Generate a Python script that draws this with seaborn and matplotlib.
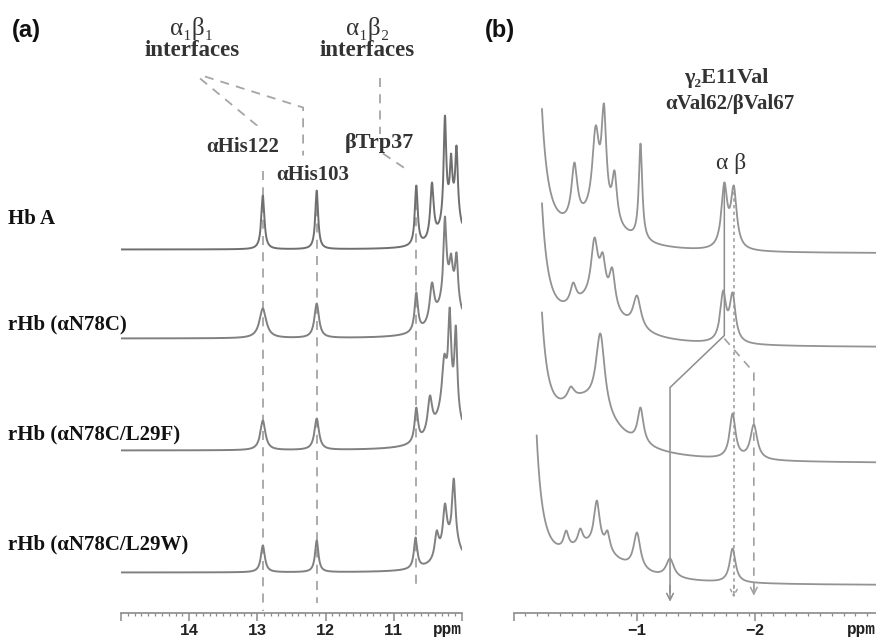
import numpy as np
import pandas as pd
import matplotlib.pyplot as plt
import seaborn as sns
from matplotlib.ticker import FixedLocator, MultipleLocator

sns.set_theme(style='white')
SERIF = ['Liberation Serif', 'DejaVu Serif']
MONO = ['Liberation Mono', 'DejaVu Sans Mono']
plt.rcParams['font.family'] = SERIF

samples = ['Hb A', 'rHb (αN78C)', 'rHb (αN78C/L29F)', 'rHb (αN78C/L29W)']

# ---- panel (a): 15 -> 10 ppm ----
# peaks: (ppm, apparent height above baseline, fwhm ppm)
hba_a = [(12.92, 54, 0.055), (12.13, 59, 0.05), (10.67, 64, 0.05), (10.44, 67, 0.06),
         (10.25, 134, 0.045), (10.16, 96, 0.04), (10.08, 104, 0.045)]
n78c_a = [(12.92, 30, 0.12), (12.13, 35, 0.08), (10.67, 46, 0.06), (10.44, 56, 0.08),
          (10.25, 122, 0.05), (10.16, 85, 0.05), (10.08, 86, 0.05)]
l29f_a = [(12.92, 30, 0.09), (12.13, 32, 0.08), (10.67, 43, 0.06), (10.47, 55, 0.08),
          (10.26, 96, 0.08), (10.18, 143, 0.05), (10.09, 125, 0.05)]
l29w_a = [(12.92, 27, 0.07), (12.13, 32, 0.06), (10.68, 35, 0.06), (10.37, 42, 0.07),
          (10.25, 69, 0.07), (10.12, 94, 0.06)]
# broad underlying humps: (ppm, amplitude, fwhm)
hump_a = [[(10.15, 40, 0.3)], [(10.18, 50, 0.35)], [(10.2, 45, 0.4)], [(10.15, 28, 0.4)]]
offset_a = [363, 274, 162, 40]

# ---- panel (b): 0 -> -3 ppm ----
hba_b = [(-0.47, 91, 0.06), (-0.65, 128, 0.07), (-0.72, 150, 0.05), (-0.81, 83, 0.05),
         (-1.03, 110, 0.035), (-1.74, 71, 0.06), (-1.82, 68, 0.06)]
n78c_b = [(-0.46, 65, 0.06), (-0.64, 110, 0.07), (-0.71, 95, 0.06), (-0.79, 80, 0.06),
          (-1.0, 52, 0.08), (-1.73, 57, 0.06), (-1.81, 55, 0.06)]
l29f_b = [(-0.44, 77, 0.07), (-0.69, 130, 0.09), (-1.03, 56, 0.06),
          (-1.81, 50, 0.06), (-1.99, 39, 0.07)]
l29w_b = [(-0.40, 55, 0.05), (-0.52, 57, 0.05), (-0.66, 85, 0.06), (-0.75, 55, 0.05),
          (-1.0, 53, 0.07), (-1.28, 27, 0.08), (-1.81, 37, 0.06)]
hump_b = [[(-0.10, 740, 0.09), (-0.65, 28, 0.55)],
          [(-0.10, 710, 0.09), (-0.62, 40, 0.6)],
          [(-0.10, 680, 0.09), (-0.55, 56, 0.65)],
          [(-0.06, 690, 0.09), (-0.6, 34, 0.65)]]
offset_b = [359, 265, 149, 27]
start_b = [-0.195, -0.195, -0.195, -0.15]


def lor(x, c, w):
    return 1.0 / (1.0 + (2.0 * (x - c) / w) ** 2)


def spectrum(x, peaks, humps):
    pos = np.array([p[0] for p in peaks])
    tgt = np.array([p[1] for p in peaks], dtype=float)
    wid = np.array([p[2] for p in peaks])
    bg = lambda v: sum(a * lor(v, c, w) for c, a, w in humps)
    A = lor(pos[:, None], pos[None, :], wid[None, :])
    h = np.clip(np.linalg.solve(A, tgt - bg(pos)), 0, None)
    return bg(x) + (h[None, :] * lor(x[:, None], pos[None, :], wid[None, :])).sum(axis=1)


fig = plt.figure(figsize=(8.76, 6.43), dpi=100)
bottom = 30.5 / 643
height = 612.5 / 643
ax_a = fig.add_axes([121 / 876, bottom, 341 / 876, height])
ax_b = fig.add_axes([514 / 876, bottom, 362 / 876, height])

# panel (a) spectra
xa = np.linspace(15, 10.0, 2000)
for i, peaks in enumerate([hba_a, n78c_a, l29f_a, l29w_a]):
    df = pd.DataFrame({'ppm': xa, 'y': offset_a[i] + spectrum(xa, peaks, hump_a[i])})
    sns.lineplot(data=df, x='ppm', y='y', ax=ax_a, color='#6f6f6f' if i == 0 else '#808080',
                 lw=1.4, zorder=3)

# panel (b) spectra
for i, peaks in enumerate([hba_b, n78c_b, l29f_b, l29w_b]):
    xb = np.linspace(start_b[i], -3.03, 2000)
    df = pd.DataFrame({'ppm': xb, 'y': offset_b[i] + spectrum(xb, peaks, hump_b[i])})
    sns.lineplot(data=df, x='ppm', y='y', ax=ax_b, color='#939393', lw=1.3, zorder=3)

for ax in (ax_a, ax_b):
    ax.set_ylim(0, 612.5)
    ax.set_facecolor('none')
    sns.despine(ax=ax, left=True)
    ax.spines['bottom'].set_color('#8a8a8a')
    ax.spines['bottom'].set_linewidth(1.2)
    ax.set_yticks([])
    ax.tick_params(axis='x', which='both', direction='out', colors='#8a8a8a',
                   labelcolor='#222222', bottom=True)
    ax.tick_params(axis='x', which='major', length=6, width=1.1, pad=1.5)
    ax.tick_params(axis='x', which='minor', length=2.5, width=0.9)
    ax.set_xlabel('')
    ax.set_ylabel('')

ax_a.set_xlim(15, 10)
ax_a.xaxis.set_major_locator(FixedLocator([15, 14, 13, 12, 11, 10]))
ax_a.set_xticklabels(['', '14', '13', '12', '11', ''])
ax_a.xaxis.set_minor_locator(MultipleLocator(0.1))
ax_a.text(10.0, -17, 'ppm', ha='right', va='center', family=MONO, weight='bold',
          fontsize=11.5, color='#222222', clip_on=False)

ax_b.set_xlim(0.042, -3.025)
ax_b.xaxis.set_major_locator(FixedLocator([0.042, -1, -2]))
ax_b.set_xticklabels(['', '\u22121', '\u22122'])
ax_b.xaxis.set_minor_locator(FixedLocator(np.arange(-0.05, -3.0, -0.1)))
ax_b.text(-3.025, -17, 'ppm', ha='right', va='center', family=MONO, weight='bold',
          fontsize=11.5, color='#222222', clip_on=False)

for ax in (ax_a, ax_b):
    for lab in ax.get_xticklabels():
        lab.set_family(MONO)
        lab.set_weight('bold')
        lab.set_fontsize(11.5)

# guide lines in (a)
gcol = '#a5a5a5'
dash = dict(color=gcol, lw=1.3, ls=(0, (5, 4)), zorder=2)
ax_a.plot([12.92, 12.92], [442, 2], **dash)
ax_a.plot([12.13, 12.13], [422, 10], **dash)
ax_a.plot([10.67, 10.67], [412, 22], **dash)
ax_a.plot([13.84, 13.006, 13.006], [534, 487, 482], **dash)
ax_a.plot([13.77, 12.33, 12.33], [536, 505, 457], **dash)
ax_a.plot([11.20, 11.20], [535, 479], **dash)
ax_a.plot([11.16, 10.79], [459, 442], **dash)

# correlation lines in (b)
lcol = '#8c8c8c'
ax_b.plot([-1.74, -1.74, -1.28, -1.28], [430, 277, 225, 20], color=lcol, lw=1.1, zorder=2)
ax_b.annotate('', xy=(-1.28, 8), xytext=(-1.28, 30),
              arrowprops=dict(arrowstyle='->', color=lcol, lw=1.1, mutation_scale=12))
ax_b.plot([-1.82, -1.82], [428, 20], color='#a0a0a0', lw=1.2, ls=(0, (2, 2)), zorder=2)
ax_b.annotate('', xy=(-1.82, 12), xytext=(-1.82, 30),
              arrowprops=dict(arrowstyle='->', color='#a0a0a0', lw=1.1, ls=(0, (2, 2)),
                              mutation_scale=12))
ax_b.plot([-1.74, -1.99, -1.99], [274, 240, 22], color='#a0a0a0', lw=1.2,
          ls=(0, (5, 4)), zorder=2)
ax_b.annotate('', xy=(-1.99, 14), xytext=(-1.99, 30),
              arrowprops=dict(arrowstyle='->', color='#a0a0a0', lw=1.1, mutation_scale=12))


def ftext(x, y, s, **kw):
    fig.text(x / 876, 1 - y / 643, s, **kw)


ftext(12, 30, '(a)', family=['Liberation Sans', 'DejaVu Sans'], weight='bold',
      fontsize=17, va='center', ha='left', color='#111111')
ftext(485, 31, '(b)', family=['Liberation Sans', 'DejaVu Sans'], weight='bold',
      fontsize=17, va='center', ha='left', color='#111111')

lab = dict(family=SERIF, color='#333333', ha='center', va='center')
ftext(192, 28, 'α\u2081β\u2081', fontsize=18, **lab)
ftext(192, 51, 'interfaces', weight='bold', fontsize=16.5, **lab)
ftext(368, 28, 'α\u2081β\u2082', fontsize=18, **lab)
ftext(367, 51, 'interfaces', weight='bold', fontsize=16.5, **lab)
ftext(243, 147, 'αHis122', weight='bold', fontsize=15, **lab)
ftext(313, 175, 'αHis103', weight='bold', fontsize=15, **lab)
ftext(379, 143, 'βTrp37', weight='bold', fontsize=16, **lab)
ftext(726, 78, 'γ\u2082E11Val', weight='bold', fontsize=16, **lab)
ftext(730, 104, 'αVal62/βVal67', weight='bold', fontsize=15, **lab)
ftext(731, 164, 'α β', fontsize=17, **lab)

row_y = [219, 324, 434, 544]
for s, y in zip(samples, row_y):
    ftext(8, y, s, family=SERIF, fontsize=15, weight='bold', color='#111111',
          ha='left', va='center')

fig.savefig('out.png', dpi=100)
